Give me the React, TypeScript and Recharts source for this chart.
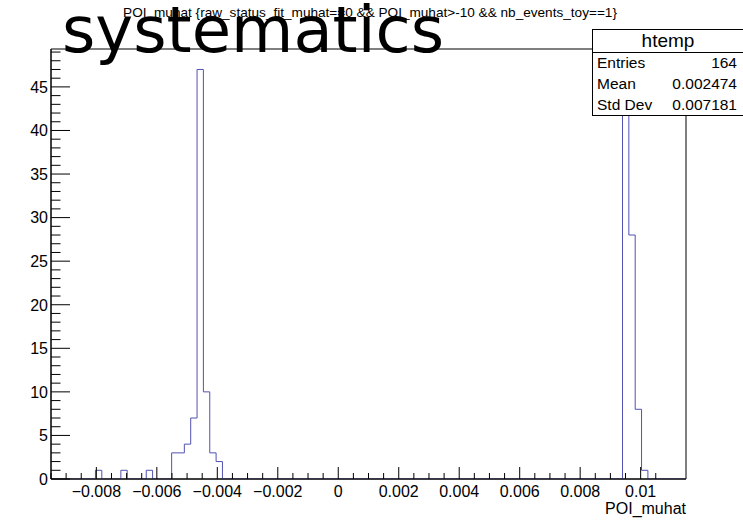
import { LineChart, Line, XAxis, YAxis, ReferenceArea } from "recharts";

// htemp: 100 bins between xLow and xHigh
const xLow = -0.0095;
const xHigh = 0.0115;
const nBins = 100;
const yMax = 49.35;

// non-empty bins (bin index) and their entries
const filledBins = [7, 11, 15, 19, 20, 21, 22, 23, 24, 25, 26, 90, 91, 92, 93];
const binEntries = [1, 1, 1, 3, 3, 4, 7, 47, 10, 3, 2, 45, 28, 8, 1];

const xMajorTicks = [-0.008, -0.006, -0.004, -0.002, 0, 0.002, 0.004, 0.006, 0.008, 0.01];
const xTickLabels = ["\u22120.008", "\u22120.006", "\u22120.004", "\u22120.002", "0", "0.002", "0.004", "0.006", "0.008", "0.01"];
const yMajorTicks = [0, 5, 10, 15, 20, 25, 30, 35, 40, 45];

const statsRows = [
  { label: "Entries", value: "164" },
  { label: "Mean", value: "0.002474" },
  { label: "Std Dev", value: "0.007181" },
];

const binWidth = (xHigh - xLow) / nBins;
const contents: number[] = new Array(nBins).fill(0);
filledBins.forEach((b, i) => (contents[b] = binEntries[i]));
const histData = contents.map((c, i) => ({ x: xLow + i * binWidth, y: c }));
histData.push({ x: xHigh, y: 0 });

// minor ticks every 0.0005 on x, every 1 on y
const xTicks = Array.from({ length: 41 }, (_, i) => Math.round((xLow + i * 0.0005) * 1e5) / 1e5);
const yTicks = Array.from({ length: 50 }, (_, i) => i);

const font = "'Liberation Sans', Arial, Helvetica, sans-serif";

const XTick = ({ x, y, payload }: any) => {
  const v = payload.value;
  const k = xMajorTicks.findIndex((m) => Math.abs(m - v) < 1e-7);
  const major = k >= 0;
  return (
    <g>
      <line x1={x} x2={x} y1={y} y2={y - (major ? 12 : 6)} stroke="#000" />
      {major && (
        <text x={x} y={y + 18} textAnchor="middle" fontSize={16} fontFamily={font} fill="#000">
          {xTickLabels[k]}
        </text>
      )}
    </g>
  );
};

const YTick = ({ x, y, payload }: any) => {
  const major = yMajorTicks.includes(payload.value);
  return (
    <g>
      <line x1={x} x2={x + (major ? 19 : 9.5)} y1={y} y2={y} stroke="#000" />
      {major && (
        <text x={x - 3} y={y + 5.8} textAnchor="end" fontSize={16} fontFamily={font} fill="#000">
          {payload.value}
        </text>
      )}
    </g>
  );
};

export default function App() {
  return (
    <div style={{ position: "absolute", left: 0, top: 0, width: 743, height: 520, background: "#fff" }}>
      <LineChart width={743} height={520} data={histData} margin={{ top: 49, left: 50, right: 57, bottom: 40 }}>
        <XAxis
          dataKey="x"
          type="number"
          domain={[xLow, xHigh]}
          allowDataOverflow
          ticks={xTicks}
          interval={0}
          height={1}
          tickSize={0}
          tickMargin={0}
          tickLine={false}
          tick={<XTick />}
          axisLine={{ stroke: "#000" }}
        />
        <YAxis
          type="number"
          domain={[0, yMax]}
          allowDataOverflow
          ticks={yTicks}
          interval={0}
          width={1}
          tickSize={0}
          tickMargin={0}
          tickLine={false}
          tick={<YTick />}
          axisLine={{ stroke: "#000" }}
        />
        <Line
          type="stepAfter"
          dataKey="y"
          stroke="#5252b0"
          strokeWidth={1}
          dot={false}
          activeDot={false}
          isAnimationActive={false}
        />
        <ReferenceArea x1={xLow} x2={xHigh} y1={0} y2={yMax} fill="none" stroke="#000" strokeOpacity={1} fillOpacity={0} />
      </LineChart>
      <svg width={743} height={520} style={{ position: "absolute", left: 0, top: 0 }}>
        <text x={370} y={17} textAnchor="middle" fontSize={13.6} fontFamily={font} fill="#000">
          POI_muhat {"{"}raw_status_fit_muhat==0 &amp;&amp; POI_muhat&gt;-10 &amp;&amp; nb_events_toy==1{"}"}
        </text>
        <text x={686} y={514} textAnchor="end" fontSize={16} fontFamily={font} fill="#000">
          POI_muhat
        </text>
        <rect x={592.5} y={29.5} width={160} height={86} fill="#fff" stroke="#000" />
        <line x1={592.5} x2={743} y1={52.5} y2={52.5} stroke="#000" />
        <text x={668} y={47} textAnchor="middle" fontSize={19} fontFamily={font} fill="#000">
          htemp
        </text>
        {statsRows.map((r, i) => (
          <g key={r.label}>
            <text x={597} y={68 + i * 21} fontSize={15.5} fontFamily={font} fill="#000">
              {r.label}
            </text>
            <text x={737} y={68 + i * 21} textAnchor="end" fontSize={15.5} fontFamily={font} fill="#000">
              {r.value}
            </text>
          </g>
        ))}
        <text x={62} y={52} fontSize={64} fontFamily="'DejaVu Sans', sans-serif" fill="#000">
          systematics
        </text>
      </svg>
    </div>
  );
}
